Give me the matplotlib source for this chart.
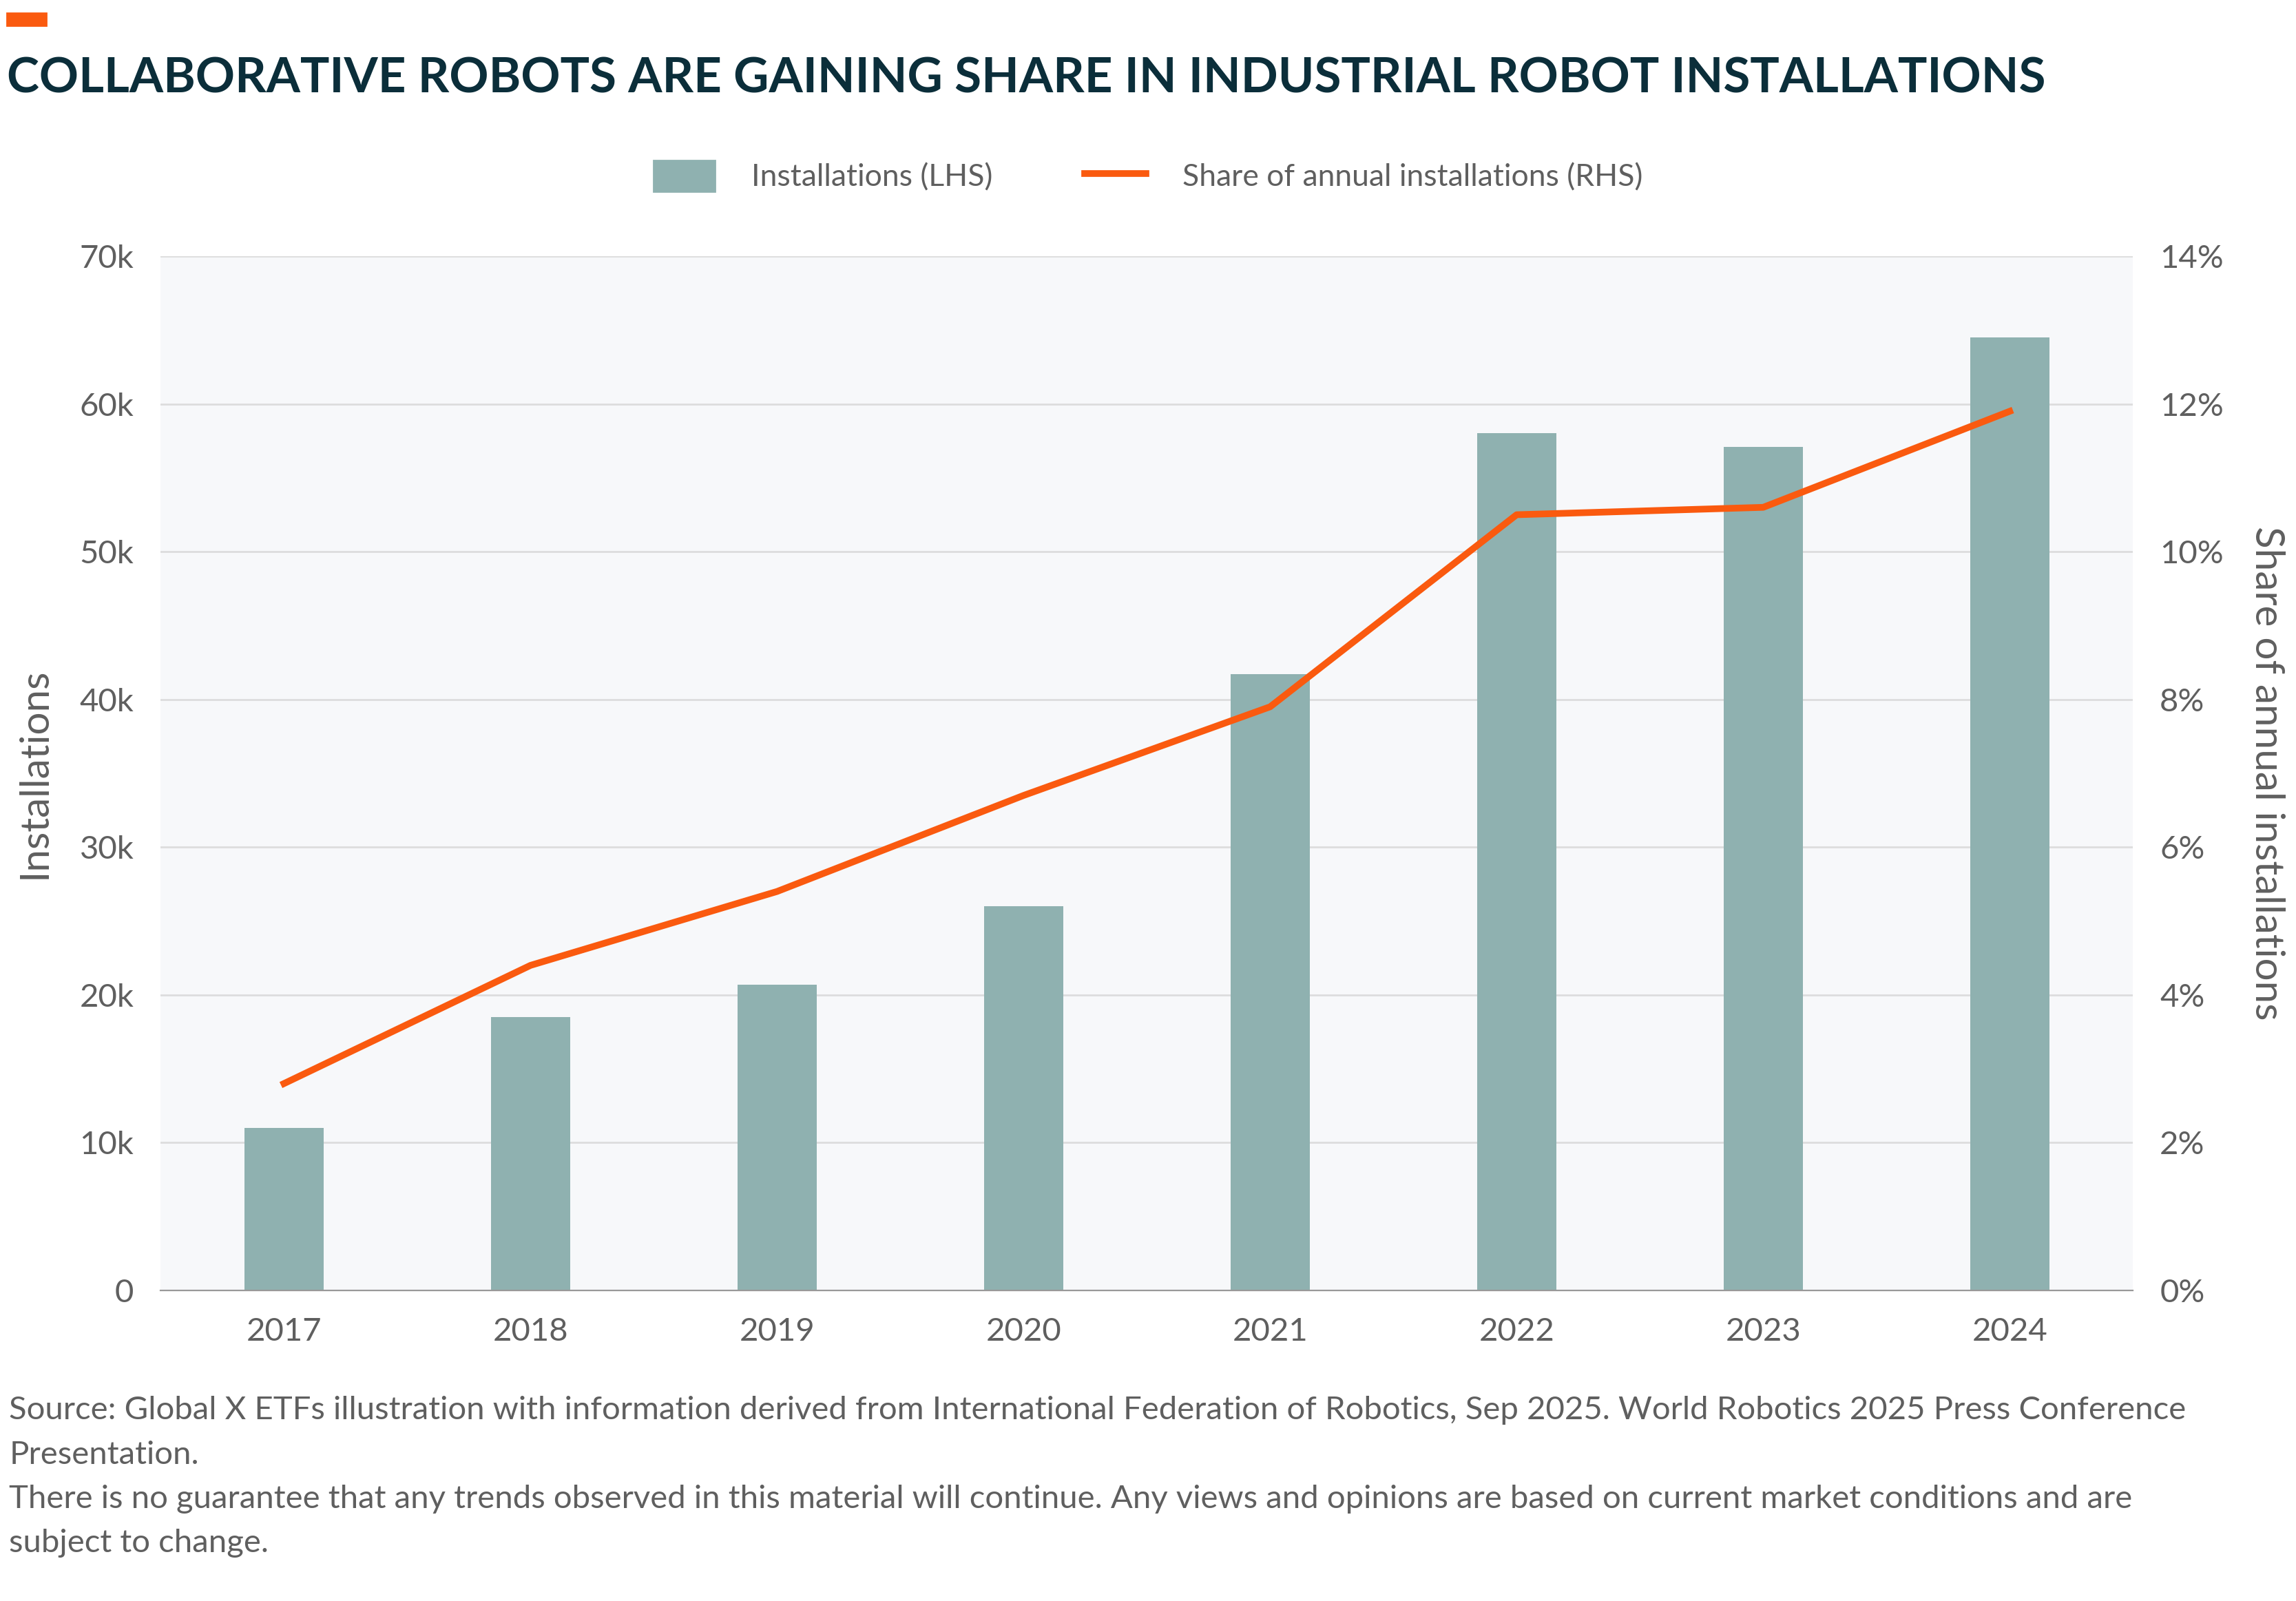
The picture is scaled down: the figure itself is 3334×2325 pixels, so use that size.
import matplotlib
matplotlib.use("Agg")
import matplotlib.pyplot as plt
from matplotlib.ticker import FuncFormatter
from matplotlib.patches import Rectangle
from matplotlib.lines import Line2D

years = ["2017", "2018", "2019", "2020", "2021", "2022", "2023", "2024"]
installations = [11000, 18500, 20700, 26000, 41700, 58000, 57100, 64500]
share_pct = [2.8, 4.4, 5.4, 6.7, 7.9, 10.5, 10.6, 11.9]

plt.rcParams['font.family'] = ['Lato', 'DejaVu Sans']
TXT = "#5f5f5f"
BAR = "#8fb1b0"
ORANGE = "#fa5a0f"

fig = plt.figure(figsize=(16.67, 11.625), dpi=200)
ax = fig.add_axes([0.070, 0.194, 0.859, 0.646])
ax.set_facecolor("#f7f8fa")
x = range(len(years))
ax.bar(x, installations, width=0.32, color=BAR, zorder=2)
ax.set_ylim(0, 70000)
ax.set_xlim(-0.5, len(years) - 0.5)
ax.set_yticks(range(0, 70001, 10000))
ax.yaxis.set_major_formatter(FuncFormatter(lambda v, p: "0" if v == 0 else f"{int(v/1000)}k"))
ax.set_xticks(list(x))
ax.set_xticklabels(years)
ax.grid(axis='y', color="#dddddd", linewidth=1, zorder=0)
for s in ["top", "right", "left"]:
    ax.spines[s].set_visible(False)
ax.spines["bottom"].set_color("#999999")
ax.tick_params(axis='both', length=0, labelsize=17, colors=TXT, pad=14)
ax.set_ylabel("Installations", fontsize=21, color=TXT, labelpad=14)

ax2 = ax.twinx()
ax2.plot(x, share_pct, color=ORANGE, linewidth=3.5, zorder=3)
ax2.set_ylim(0, 14)
ax2.set_yticks(range(0, 15, 2))
ax2.yaxis.set_major_formatter(FuncFormatter(lambda v, p: f"{int(v)}%"))
for s in ["top", "right", "left", "bottom"]:
    ax2.spines[s].set_visible(False)
ax2.tick_params(axis='y', length=0, labelsize=17, colors=TXT, pad=14)
ax2.set_ylabel("Share of annual installations", fontsize=21, color=TXT, rotation=270, labelpad=32)

fig.add_artist(Rectangle((0.003, 0.984), 0.017, 0.008, transform=fig.transFigure, color=ORANGE))
fig.text(0.003, 0.951, "COLLABORATIVE ROBOTS ARE GAINING SHARE IN INDUSTRIAL ROBOT INSTALLATIONS",
         fontsize=25.5, fontweight='bold', color="#0b2e3a", va='center', ha='left')

handles = [Rectangle((0, 0), 1, 1, color=BAR), Line2D([0], [0], color=ORANGE, linewidth=3.5)]
fig.legend(handles, ["Installations (LHS)", "Share of annual installations (RHS)"],
           loc='center', bbox_to_anchor=(0.5, 0.89), ncol=2, frameon=False,
           fontsize=16, labelcolor=TXT, handlelength=2.0, handleheight=1.2,
           columnspacing=3, handletextpad=1.2)

foot = ("Source: Global X ETFs illustration with information derived from International Federation of Robotics, Sep 2025. World Robotics 2025 Press Conference\n"
        "Presentation.\n"
        "There is no guarantee that any trends observed in this material will continue. Any views and opinions are based on current market conditions and are\n"
        "subject to change.")
fig.text(0.004, 0.128, foot, fontsize=17, color=TXT, va='top', ha='left', linespacing=1.65)

fig.savefig("out.png", dpi=200)
